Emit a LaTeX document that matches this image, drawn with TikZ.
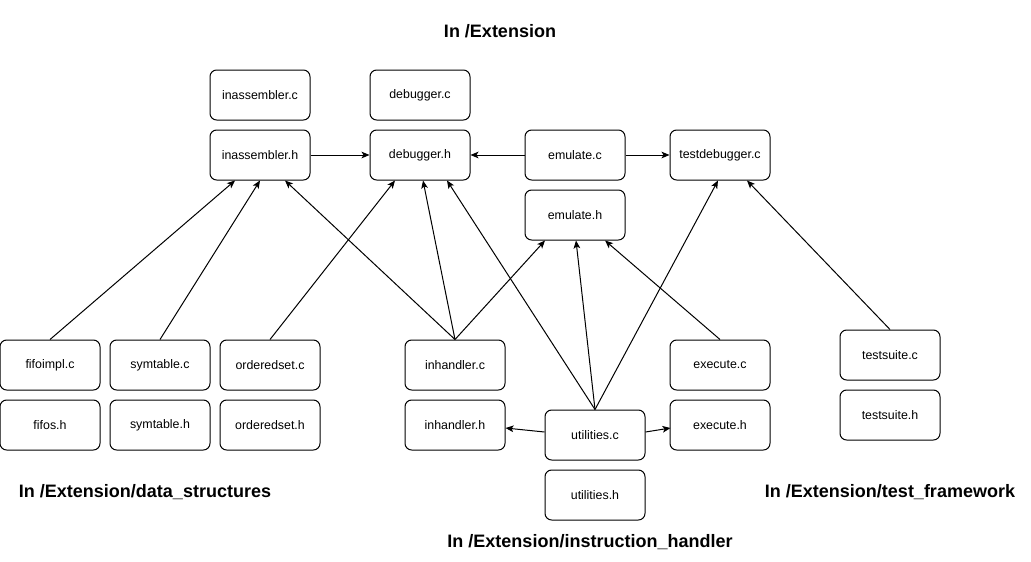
\documentclass[tikz,border=0pt]{standalone}
\usepackage{fontspec}
\setmainfont{Liberation Sans}
\usetikzlibrary{arrows.meta,calc}
\begin{document}
\begin{tikzpicture}[x=0.75pt,y=-0.75pt,
  box/.style={draw,line width=0.75pt,rounded corners=5pt,minimum width=75pt,minimum height=37.5pt,inner sep=0pt,font=\fontsize{9.3}{11}\selectfont},
  lbl/.style={font=\bfseries\fontsize{13.5}{16}\selectfont,inner sep=0pt},
  arr/.style={-{Stealth[length=6pt,width=5pt,inset=1.5pt]},line width=0.75pt}]
\useasboundingbox (0,0) rectangle (1031,561);
% top
\node[box] (inasc) at (260,95) {inassembler.c};
\node[box] (inash) at (260,155) {inassembler.h};
\node[box] (dbgc) at (420,95) {debugger.c};
\node[box] (dbgh) at (420,155) {debugger.h};
\node[box] (emuc) at (575,155) {emulate.c};
\node[box] (emuh) at (575,215) {emulate.h};
\node[box] (tdbg) at (720,155) {testdebugger.c};
% data structures
\node[box] (fifoc) at (50,365) {fifoimpl.c};
\node[box] (fifoh) at (50,425) {fifos.h};
\node[box] (symc) at (160,365) {symtable.c};
\node[box] (symh) at (160,425) {symtable.h};
\node[box] (ordc) at (270,365) {orderedset.c};
\node[box] (ordh) at (270,425) {orderedset.h};
% instruction handler
\node[box] (inhc) at (455,365) {inhandler.c};
\node[box] (inhh) at (455,425) {inhandler.h};
\node[box] (utilc) at (595,435) {utilities.c};
\node[box] (utilh) at (595,495) {utilities.h};
\node[box] (exec) at (720,365) {execute.c};
\node[box] (exeh) at (720,425) {execute.h};
% test framework
\node[box] (tsc) at (890,355) {testsuite.c};
\node[box] (tsh) at (890,415) {testsuite.h};
% labels
\node[lbl] (l1) at (500,31) {In /Extension};
\node[lbl] (l2) at (145,492) {In /Extension/data\_structures};
\node[lbl] (l3) at (590,542) {In /Extension/instruction\_handler};
\node[lbl] (l4) at (890,492) {In /Extension/test\_framework};
% edges
\draw[arr] (inash.east) -- (dbgh.west);
\draw[arr] (emuc.west) -- (dbgh.east);
\draw[arr] (emuc.east) -- (tdbg.west);
\draw[arr] (fifoc.north) -- ($(inash.south)+(-25,0)$);
\draw[arr] (symc.north) -- (inash.south);
\draw[arr] (inhc.north) -- ($(inash.south)+(25,0)$);
\draw[arr] (ordc.north) -- ($(dbgh.south)+(-25,0)$);
\draw[arr] (inhc.north) -- ($(dbgh.south)+(3,0)$);
\draw[arr] (utilc.north) -- ($(dbgh.south)+(27,0)$);
\draw[arr] (inhc.north) -- ($(emuh.south)+(-30,0)$);
\draw[arr] (utilc.north) -- ($(emuh.south)+(1,0)$);
\draw[arr] (exec.north) -- ($(emuh.south)+(30,0)$);
\draw[arr] (utilc.north) -- ($(tdbg.south)+(-2,0)$);
\draw[arr] (tsc.north) -- ($(tdbg.south)+(27,0)$);
\draw[arr] ($(utilc.west)+(0,-3)$) -- ($(inhh.east)+(0,3)$);
\draw[arr] ($(utilc.east)+(0,-3)$) -- ($(exeh.east)+(-100,3)$);
\end{tikzpicture}
\end{document}
